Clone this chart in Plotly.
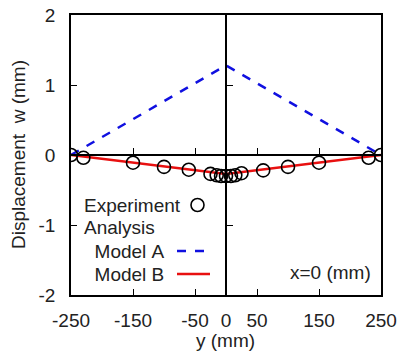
import plotly.graph_objects as go

# Deflection profile along the y-axis at x = 0
exp_y = [-250, -230, -150, -100, -60, -25, -15, -8, 0, 8, 15, 25, 60, 100, 150, 230, 250]
exp_w = [0.0, -0.04, -0.11, -0.17, -0.21, -0.27, -0.29, -0.30, -0.30, -0.30, -0.29, -0.26, -0.22, -0.17, -0.11, -0.04, 0.0]

model_a_y = [-250, 0, 250]
model_a_w = [0.0, 1.28, 0.0]

model_b_y = [-250, 0, 250]
model_b_w = [0.0, -0.27, 0.0]

x_ticks = [-250, -150, -50, 0, 50, 150, 250]
x_labels = ["-250", "-150", "-50", "0", "50", "150", "250"]
y_ticks = [-2, -1, 0, 1, 2]
y_labels = ["-2", "-1", "0", "1", "2"]

FONT = "Liberation Sans, Arial, sans-serif"
FS = 19
L, R, T, B = 71, 17, 15, 56
PW, PH = 398 - L - R, 351 - T - B


def px(x):
    return (x - L) / PW


def py(y):
    return (351 - B - y) / PH


fig = go.Figure()
fig.add_trace(go.Scatter(x=model_a_y, y=model_a_w, mode="lines",
                         line=dict(color="#1010e0", width=2.5, dash="dash"),
                         showlegend=False))
fig.add_trace(go.Scatter(x=model_b_y, y=model_b_w, mode="lines",
                         line=dict(color="#e81010", width=2.5),
                         showlegend=False))
fig.add_trace(go.Scatter(x=exp_y, y=exp_w, mode="markers",
                         marker=dict(symbol="circle-open", size=13, color="black",
                                     line=dict(width=1.6, color="black")),
                         showlegend=False))
# helper trace so the centre axes (w = 0 and y = 0) get drawn with their ticks
fig.add_trace(go.Scatter(x=[0], y=[0], xaxis="x2", yaxis="y2", mode="markers",
                         marker=dict(opacity=0), showlegend=False, hoverinfo="skip"))

axis_common = dict(showgrid=False, zeroline=False, ticks="inside", ticklen=6,
                   tickwidth=1.3, tickcolor="black", linecolor="black", linewidth=1.6,
                   automargin=False)

fig.update_layout(
    width=398, height=351,
    margin=dict(l=L, r=R, t=T, b=B),
    plot_bgcolor="white", paper_bgcolor="white",
    font=dict(family=FONT, size=FS, color="#222"),
    xaxis=dict(range=[-250, 250], tickvals=x_ticks, ticktext=x_labels,
               showline=True, mirror=True, ticklabelstandoff=7, **axis_common),
    yaxis=dict(range=[-2, 2], tickvals=y_ticks, ticktext=y_labels,
               showline=True, mirror=True, ticklabelstandoff=10, **axis_common),
    xaxis2=dict(range=[-250, 250], tickvals=[-150, -50, 50, 150], overlaying="x",
                anchor="free", position=0.5, showline=True, showticklabels=False,
                **axis_common),
    yaxis2=dict(range=[-2, 2], tickvals=[-1, 1], overlaying="y", anchor="free",
                position=0.5, showline=True, showticklabels=False, side="left",
                **axis_common),
)

# axis titles
fig.add_annotation(xref="paper", yref="paper", x=px(225), y=py(340), text="y (mm)",
                   showarrow=False, xanchor="center", yanchor="middle")
fig.add_annotation(xref="paper", yref="paper", x=px(18), y=py(155),
                   text="Displacement&nbsp;&nbsp;w (mm)", textangle=-90,
                   showarrow=False, xanchor="center", yanchor="middle")

# legend block drawn inside the lower-left of the plot
legend_rows = [("Experiment", 205), ("Analysis", 227), ("  Model A", 251), ("  Model B", 274)]
for text, ty in legend_rows:
    fig.add_annotation(xref="paper", yref="paper", x=px(82), y=py(ty),
                       text=text.replace(" ", "&nbsp;"),
                       showarrow=False, xanchor="left", yanchor="middle")
fig.add_shape(type="circle", xref="paper", yref="paper",
              x0=px(191), x1=px(204), y0=py(211.5), y1=py(198.5),
              line=dict(color="black", width=1.6))
fig.add_shape(type="line", xref="paper", yref="paper",
              x0=px(177), x1=px(210), y0=py(251), y1=py(251),
              line=dict(color="#1010e0", width=2.5, dash="dash"))
fig.add_shape(type="line", xref="paper", yref="paper",
              x0=px(177), x1=px(210), y0=py(274), y1=py(274),
              line=dict(color="#e81010", width=2.5))

fig.add_annotation(xref="paper", yref="paper", x=px(373), y=py(272),
                   text="x=0 (mm)", showarrow=False,
                   xanchor="right", yanchor="middle")

fig.write_html("out.html")
